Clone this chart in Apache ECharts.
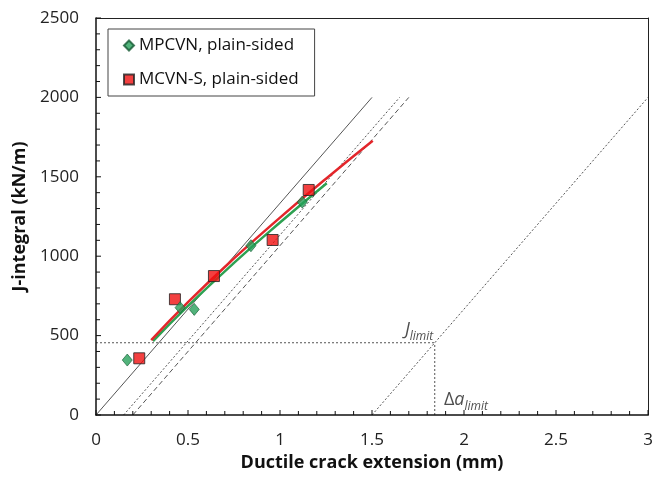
<!DOCTYPE html>
<html><head><meta charset="utf-8">
<script src="https://cdn.jsdelivr.net/npm/echarts@6/dist/echarts.min.js"></script>
<style>html,body{margin:0;padding:0;background:#fff}#c{width:663px;height:485px}</style>
</head><body><div id="c"></div>
<script>
// Data
var mpcvnX = [0.170, 0.457, 0.534, 0.842, 1.121];
var mpcvnJ = [346, 676, 665, 1066, 1341];
var mcvnX = [0.235, 0.429, 0.641, 0.960, 1.156];
var mcvnJ = [357, 729, 875, 1102, 1417];
// fitted curves
var fitGreenX = [0.31, 0.50, 0.75, 1.00, 1.254];
var fitGreenJ = [465, 687, 958, 1212, 1459];
var fitRedX = [0.30, 0.50, 0.75, 1.00, 1.25, 1.504];
var fitRedJ = [472, 711, 986, 1243, 1488, 1727];
// construction lines
var bluntX = [0, 1.5], bluntJ = [0, 2000];
var off015X = [0.15, 1.65], off015J = [0, 2000];
var off02X = [0.2, 1.7], off02J = [0, 2000];
var off15X = [1.5, 3.0], off15J = [0, 2000];
var jLimit = 455, daLimit = 1.841;
var xTicks = [0, 0.5, 1, 1.5, 2, 2.5, 3];
var yTicks = [0, 500, 1000, 1500, 2000, 2500];
var minorPerMajor = 5;

function zip(xs, ys) { return xs.map(function (x, i) { return [x, ys[i]]; }); }
// tick positions (major + minor) derived from the tick label arrays
function tickList(ticks) {
  var out = [];
  for (var i = 0; i < ticks.length; i++) {
    out.push([ticks[i], 1]);
    if (i < ticks.length - 1) {
      var step = (ticks[i + 1] - ticks[i]) / minorPerMajor;
      for (var k = 1; k < minorPerMajor; k++) out.push([ticks[i] + k * step, 0]);
    }
  }
  return out;
}

var chart = echarts.init(document.getElementById('c'));
var FONT = '"Open Sans", sans-serif';
var refLine = function (data, type, name) {
  return { name: name, type: 'line', data: data, symbol: 'none', silent: true, z: 1,
    lineStyle: { color: '#555', width: 1, type: type } };
};
function mainAxis() {
  return {
    z: 10,
    nameLocation: 'middle',
    nameTextStyle: { fontFamily: FONT, fontSize: 18, fontWeight: 'bold', color: '#111' },
    axisLine: { show: true, onZero: false, lineStyle: { color: '#111', width: 1.5 } },
    axisTick: { show: false }, minorTick: { show: false },
    axisLabel: { fontFamily: FONT, fontSize: 17, color: '#222', margin: 17,
      formatter: function (v) { return String(v); } },
    splitLine: { show: false }
  };
}
function borderAxis(pos, min, max) {
  return { type: 'value', position: pos, min: min, max: max, z: 10,
    axisLine: { show: true, onZero: false, lineStyle: { color: '#222', width: 1 } },
    axisTick: { show: false }, minorTick: { show: false }, axisLabel: { show: false }, splitLine: { show: false } };
}
var xMin = xTicks[0], xMax = xTicks[xTicks.length - 1];
var yMin = yTicks[0], yMax = yTicks[yTicks.length - 1];
var xAxis = Object.assign(mainAxis(), {
  type: 'value', min: xMin, max: xMax, interval: 0.5, position: 'bottom',
  name: 'Ductile crack extension (mm)', nameGap: 38
});
var yAxis = Object.assign(mainAxis(), {
  type: 'value', min: yMin, max: yMax, interval: 500, position: 'left',
  name: 'J-integral (kN/m)', nameGap: 66
});
// inward-pointing ticks drawn through the axes' scales
function tickSeries(name, ticks, horizontal) {
  return {
    name: name, type: 'custom', silent: true, clip: false, z: 11,
    data: tickList(ticks),
    renderItem: function (params, api) {
      var v = api.value(0), major = api.value(1) === 1;
      var len = major ? 5 : 4;
      var p = horizontal ? api.coord([v, yMin]) : api.coord([xMin, v]);
      var shape = horizontal
        ? { x1: p[0], y1: p[1], x2: p[0], y2: p[1] - len }
        : { x1: p[0], y1: p[1], x2: p[0] + len, y2: p[1] };
      return { type: 'line', shape: shape, style: { stroke: '#111', lineWidth: 1 } };
    }
  };
}
chart.setOption({
  animation: false,
  grid: { left: 96, right: 15, top: 18, bottom: 70, show: false },
  legend: {
    orient: 'vertical', left: 108, top: 29, padding: [8, 16, 8, 15], itemGap: 17,
    itemWidth: 10, itemHeight: 10, borderColor: '#444', borderWidth: 1, backgroundColor: '#fff',
    textStyle: { fontFamily: FONT, fontSize: 17, color: '#111' },
    data: [
      { name: 'MPCVN, plain-sided', icon: 'diamond' },
      { name: 'MCVN-S, plain-sided', icon: 'rect' }
    ]
  },
  xAxis: [xAxis, borderAxis('top', xMin, xMax)],
  yAxis: [yAxis, borderAxis('right', yMin, yMax)],
  series: [
    refLine(zip(bluntX, bluntJ), 'solid', 'blunt'),
    refLine(zip(off015X, off015J), [2, 2], 'off015'),
    refLine(zip(off02X, off02J), [5, 3], 'off02'),
    refLine(zip(off15X, off15J), [2, 2], 'off15'),
    refLine([[0, jLimit], [daLimit, jLimit]], [2, 2], 'jlimH'),
    refLine([[daLimit, 0], [daLimit, jLimit]], [2, 2], 'jlimV'),
    tickSeries('xTicks', xTicks, true),
    tickSeries('yTicks', yTicks, false),
    { name: 'fitGreen', type: 'line', data: zip(fitGreenX, fitGreenJ), smooth: true, symbol: 'none', z: 2,
      lineStyle: { color: '#2ea152', width: 2.5 } },
    { name: 'fitRed', type: 'line', data: zip(fitRedX, fitRedJ), smooth: true, symbol: 'none', z: 3,
      lineStyle: { color: '#e3262b', width: 2.5 } },
    { name: 'MPCVN, plain-sided', type: 'scatter', data: zip(mpcvnX, mpcvnJ), symbol: 'diamond', symbolSize: [10, 12], z: 5,
      itemStyle: { color: '#27a05a', borderColor: '#155a33', borderWidth: 0.8 } },
    { name: 'MCVN-S, plain-sided', type: 'scatter', data: zip(mcvnX, mcvnJ), symbol: 'rect', symbolSize: 11, z: 4,
      itemStyle: { color: '#f01010', borderColor: '#222', borderWidth: 1 } },
    { name: 'labels', type: 'scatter', symbolSize: 0, silent: true, z: 6,
      data: [
        { value: [1.679, 524], label: { formatter: '{i|J}{s|limit}' } },
        { value: [1.891, 84], label: { formatter: '{n|Δ}{i|a}{s|limit}' } }
      ],
      label: { show: true, position: 'right', distance: 0, color: '#222',
        rich: {
          i: { fontFamily: FONT, fontSize: 18, fontStyle: 'italic', color: '#222', verticalAlign: 'bottom', padding: [0, 0, 4, 0] },
          n: { fontFamily: FONT, fontSize: 18, color: '#222', verticalAlign: 'bottom', padding: [0, 0, 4, 0] },
          s: { fontFamily: FONT, fontSize: 12, fontStyle: 'italic', color: '#222', verticalAlign: 'bottom' }
        } }
    }
  ]
});
</script></body></html>
